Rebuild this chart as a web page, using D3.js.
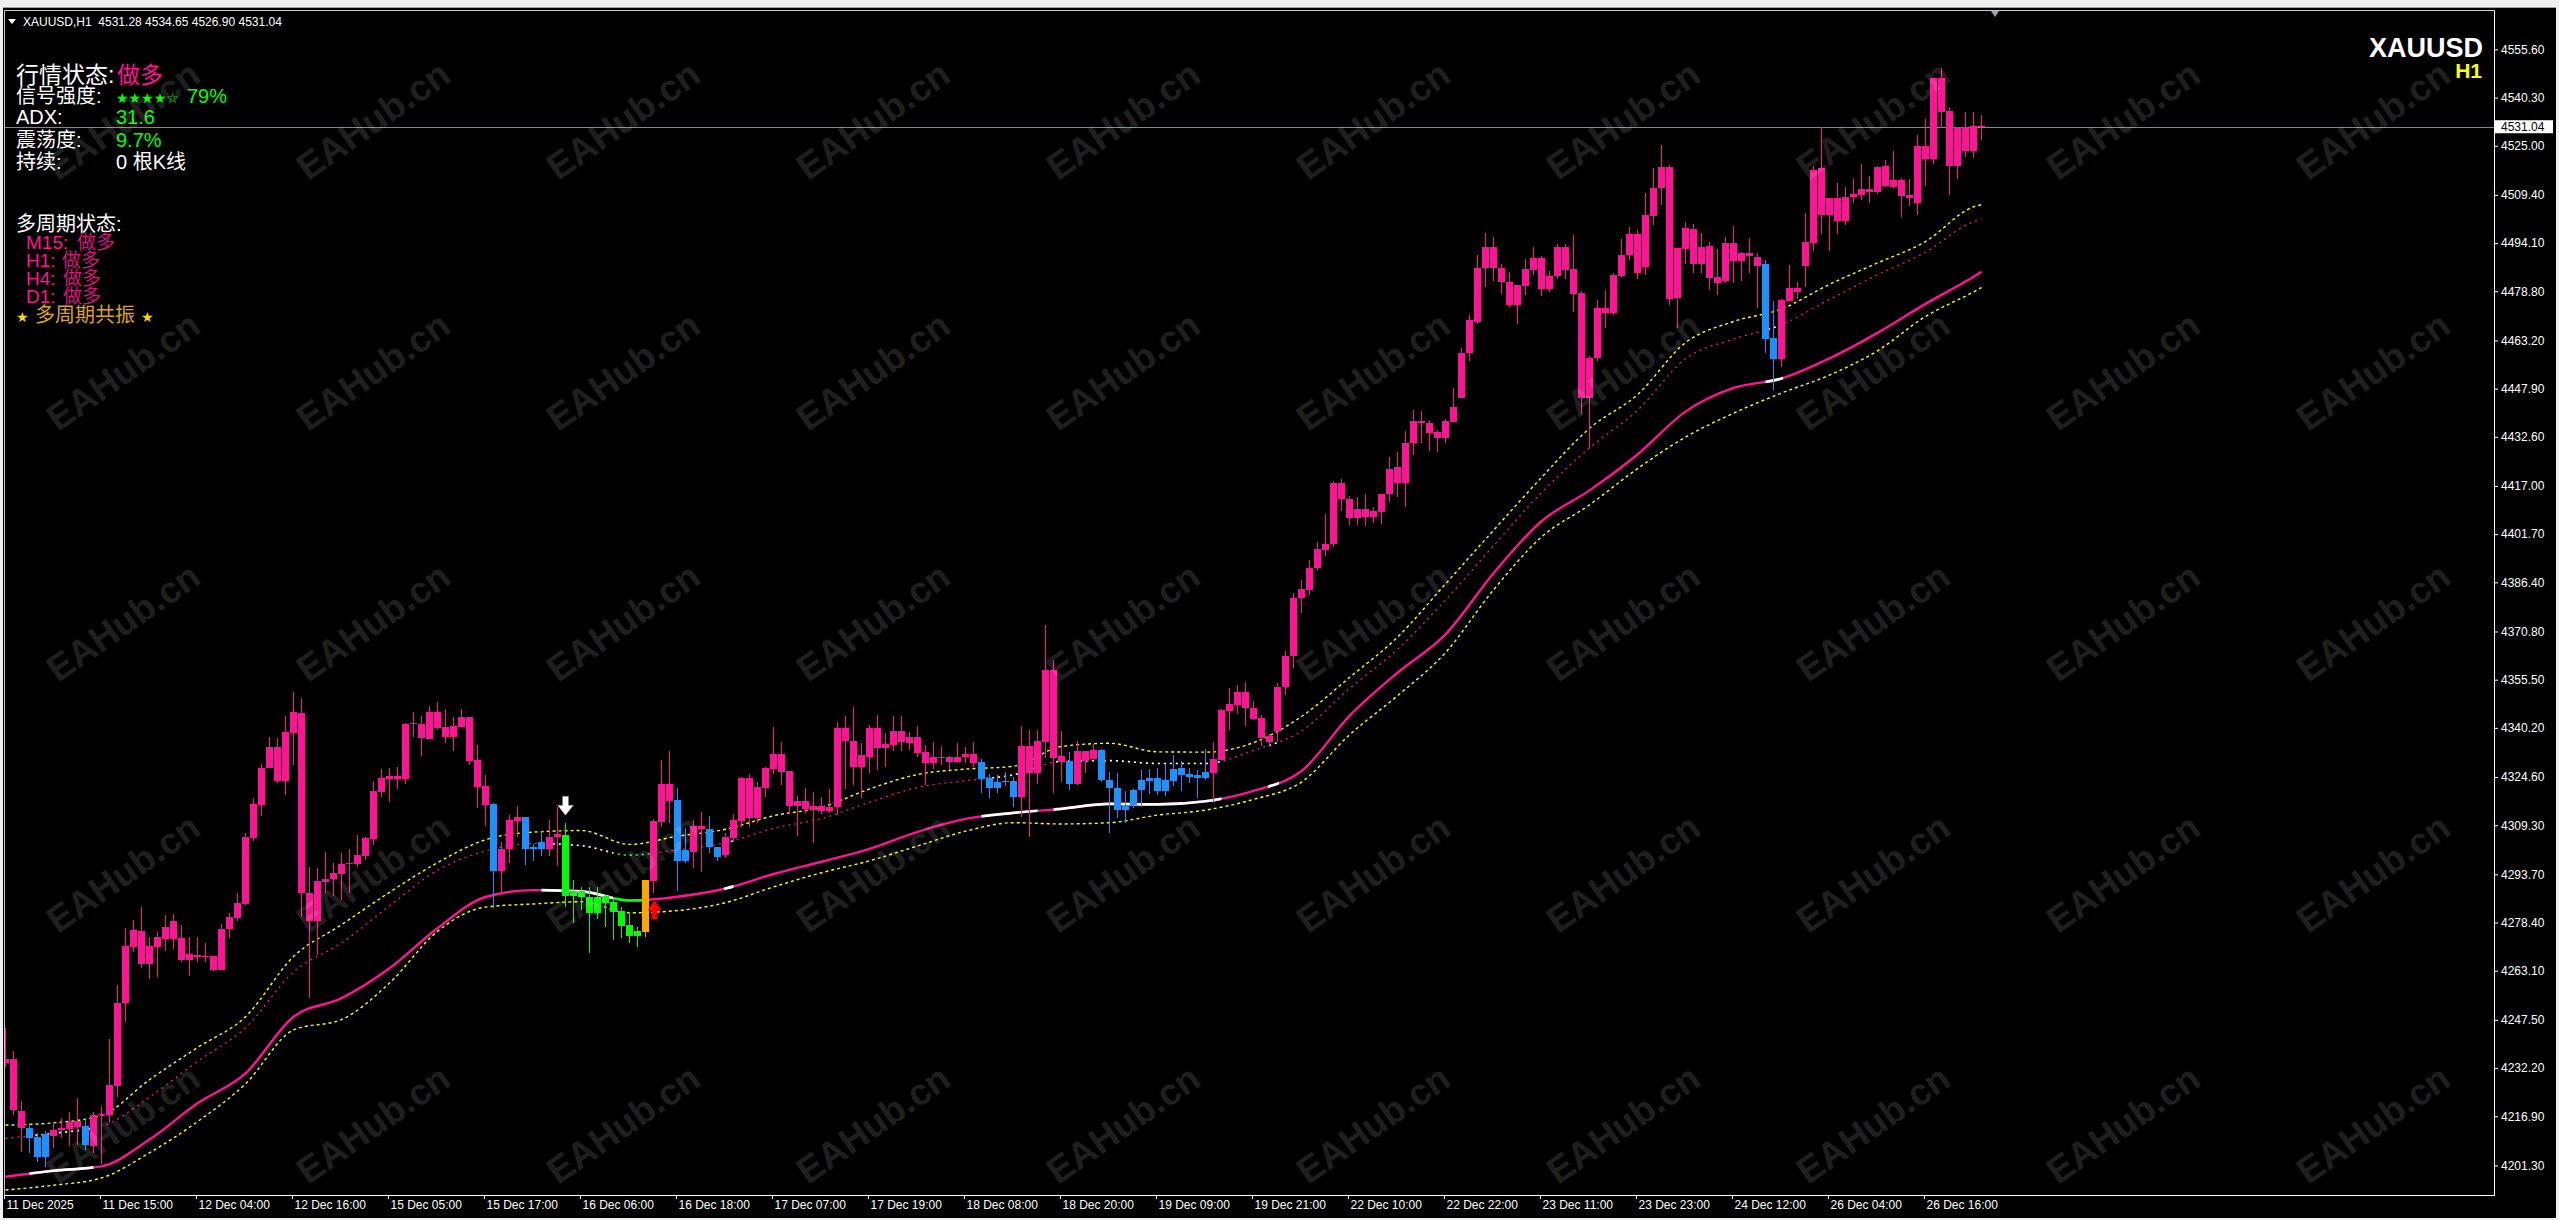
<!DOCTYPE html>
<html><head><meta charset="utf-8">
<script src="https://cdn.jsdelivr.net/npm/d3@7"></script>
<style>
html,body{margin:0;padding:0;background:#000;overflow:hidden}
svg{display:block}
text{white-space:pre}
</style></head><body>
<svg id="chart" width="2559" height="1220"></svg>
<script>
// ---------------- DATA ----------------
const symbol = "XAUUSD";
const timeframe = "H1";
const headerText = "XAUUSD,H1  4531.28 4534.65 4526.90 4531.04";
const lastPrice = 4531.04;

const opens = [
4233.7,4235.1,4218.6,4213.1,4210.2,4204.1,4210.7,4212.5,4212.9,4215.4,
4213.8,4207.5,4217.2,4217.3,4226.5,4253.0,4270.7,4275.8,4265.2,4270.7,
4273.3,4279.0,4273.4,4266.5,4268.0,4267.6,4267.8,4263.3,4276.2,4279.8,
4284.3,4305.3,4315.7,4327.6,4334.1,4323.4,4338.7,4345.0,4287.7,4279.0,
4291.4,4292.2,4293.8,4297.0,4297.0,4299.5,4305.0,4319.9,4324.1,4324.9,
4323.9,4341.3,4341.4,4336.8,4345.2,4340.5,4337.4,4340.6,4343.7,4330.0,
4321.7,4316.0,4294.9,4301.9,4310.7,4312.0,4301.9,4301.6,4301.6,4305.5,
4306.2,4286.8,4288.5,4286.4,4281.3,4286.8,4284.9,4282.1,4277.6,4274.1,
4275.5,4291.7,4310.4,4322.4,4317.3,4298.0,4300.9,4309.0,4308.1,4302.3,
4299.9,4305.3,4310.7,4324.4,4311.7,4321.2,4327.2,4331.9,4326.5,4315.5,
4317.0,4314.1,4315.4,4313.9,4315.2,4340.0,4336.0,4327.9,4331.0,4340.3,
4333.9,4334.7,4339.2,4335.5,4337.2,4332.4,4329.1,4330.8,4330.8,4329.4,
4331.0,4331.9,4329.3,4324.2,4321.0,4323.0,4323.3,4318.4,4334.4,4326.0,
4335.8,4358.6,4331.3,4329.7,4322.4,4332.9,4330.3,4333.2,4323.7,4321.0,
4314.1,4315.6,4320.5,4323.4,4324.4,4320.2,4323.3,4327.6,4324.7,4325.2,
4324.4,4326.0,4330.0,4345.6,4347.5,4351.6,4346.6,4343.4,4337.6,4339.2,
4353.1,4363.0,4381.4,4384.0,4391.0,4396.8,4398.7,4418.0,4412.8,4406.7,
4409.8,4407.1,4408.8,4414.4,4423.1,4417.8,4430.5,4437.5,4437.1,4434.1,
4432.2,4437.4,4444.9,4459.2,4469.2,4486.2,4492.9,4486.2,4481.6,4474.3,
4480.6,4485.5,4489.5,4479.5,4483.5,4492.9,4485.9,4478.2,4445.0,4457.5,
4473.5,4471.9,4483.5,4490.2,4496.9,4486.6,4502.8,4511.5,4518.3,4476.8,
4492.2,4498.6,4487.4,4493.3,4483.4,4482.0,4494.2,4488.4,4491.0,4489.8,
4487.4,4464.1,4457.3,4475.8,4479.9,4486.8,4494.2,4518.0,4503.0,4508.5,
4501.1,4508.6,4509.3,4511.2,4510.4,4518.5,4512.0,4514.1,4509.3,4506.9,
4524.9,4520.7,4546.4,4536.1,4518.5,4530.8,4523.4,4531.28];

const highs = [
4244.8,4237.7,4221.9,4214.9,4211.5,4212.3,4215.2,4216.2,4218.2,4222.6,
4216.2,4218.4,4220.2,4241.4,4258.6,4276.6,4279.2,4283.2,4273.9,4275.3,
4280.8,4281.1,4277.6,4273.9,4273.9,4271.8,4267.8,4277.9,4281.3,4287.7,
4306.9,4317.8,4328.7,4337.2,4336.9,4344.0,4351.7,4349.6,4296.1,4295.6,
4300.9,4297.4,4300.4,4301.6,4306.2,4305.7,4323.3,4327.0,4327.4,4327.7,
4341.9,4345.1,4344.0,4347.1,4348.3,4346.1,4343.8,4346.1,4343.8,4334.8,
4325.2,4316.5,4304.1,4312.5,4315.4,4312.0,4303.3,4307.3,4311.0,4315.2,
4309.9,4291.9,4289.8,4289.6,4289.8,4287.1,4286.6,4283.4,4281.9,4277.1,
4291.9,4311.2,4330.0,4332.8,4321.0,4308.3,4311.1,4313.4,4312.2,4302.5,
4306.9,4312.8,4324.7,4325.5,4323.1,4327.7,4340.4,4335.6,4326.5,4318.7,
4321.0,4319.7,4318.3,4320.8,4342.2,4344.1,4346.7,4335.3,4341.1,4344.3,
4338.7,4343.9,4343.9,4339.0,4340.8,4334.7,4335.6,4334.4,4331.2,4335.3,
4334.0,4335.6,4330.2,4325.5,4325.2,4326.3,4324.5,4340.8,4339.5,4339.5,
4372.9,4361.7,4339.2,4332.4,4336.0,4332.9,4335.0,4333.5,4326.1,4326.0,
4320.3,4320.9,4326.8,4327.1,4327.6,4328.7,4331.6,4329.7,4327.6,4326.8,
4333.5,4335.6,4346.1,4352.8,4353.8,4354.8,4348.7,4344.3,4338.1,4354.3,
4364.7,4383.0,4387.0,4393.5,4399.1,4408.1,4418.7,4419.1,4413.8,4413.5,
4414.4,4410.4,4414.4,4426.1,4427.8,4434.5,4441.2,4440.7,4437.8,4434.9,
4438.1,4448.2,4460.9,4471.2,4490.2,4497.3,4495.9,4487.5,4484.8,4480.8,
4489.2,4492.9,4489.9,4485.2,4493.9,4493.9,4496.6,4478.8,4458.1,4475.9,
4479.2,4484.6,4495.5,4499.3,4498.2,4509.9,4518.0,4525.2,4518.9,4492.6,
4500.9,4500.1,4497.4,4494.5,4492.1,4495.9,4499.6,4491.4,4495.6,4491.0,
4488.7,4475.8,4476.5,4487.1,4481.8,4503.5,4518.5,4531.0,4508.5,4513.3,
4511.8,4514.6,4519.2,4515.4,4518.5,4520.4,4523.4,4514.9,4514.6,4528.4,
4533.4,4546.4,4549.6,4537.4,4531.0,4535.8,4535.8,4534.65];

const lows = [
4232.5,4217.3,4205.7,4205.1,4202.5,4200.7,4206.7,4209.9,4207.3,4207.8,
4206.2,4205.1,4201.7,4214.7,4223.1,4246.9,4269.2,4263.9,4260.4,4261.2,
4269.5,4269.9,4266.0,4261.5,4266.0,4266.0,4263.1,4263.3,4273.4,4279.0,
4284.0,4304.3,4312.2,4327.4,4322.6,4318.9,4328.4,4280.3,4254.3,4268.1,
4287.7,4286.8,4285.6,4287.7,4296.1,4298.3,4303.0,4318.4,4316.8,4320.7,
4322.4,4337.4,4331.3,4336.6,4339.5,4335.5,4333.0,4340.6,4328.4,4314.9,
4309.2,4282.9,4287.9,4297.4,4305.7,4296.7,4298.0,4299.5,4299.5,4296.4,
4283.4,4278.2,4282.4,4268.6,4279.4,4276.9,4272.9,4273.4,4272.0,4270.7,
4273.9,4287.7,4308.8,4309.9,4288.5,4297.2,4295.6,4294.5,4300.4,4298.0,
4298.8,4304.1,4308.8,4308.6,4309.9,4318.3,4325.5,4322.0,4313.0,4306.0,
4313.3,4303.7,4312.8,4313.3,4312.5,4320.7,4322.0,4317.8,4326.0,4326.8,
4327.9,4332.9,4332.9,4333.2,4330.8,4322.0,4327.3,4328.4,4326.8,4328.9,
4328.9,4327.7,4319.6,4318.0,4319.6,4321.8,4315.0,4311.8,4305.7,4322.4,
4330.5,4319.6,4323.1,4320.5,4322.1,4325.8,4330.3,4323.1,4306.7,4311.5,
4310.1,4314.7,4315.2,4319.2,4318.9,4318.7,4321.8,4320.0,4322.8,4318.0,
4323.7,4317.1,4330.0,4339.5,4344.6,4340.8,4342.7,4334.4,4334.4,4335.8,
4350.6,4359.1,4376.8,4382.4,4390.0,4394.8,4397.7,4409.1,4404.7,4404.7,
4404.4,4405.1,4404.8,4411.8,4413.5,4410.4,4426.7,4430.5,4428.2,4427.8,
4430.5,4437.4,4444.9,4456.8,4468.5,4480.3,4482.2,4477.9,4473.9,4468.5,
4477.5,4483.9,4477.2,4478.6,4482.6,4482.6,4472.3,4439.8,4428.9,4456.8,
4467.2,4471.2,4483.2,4488.6,4482.6,4483.9,4499.8,4506.2,4474.4,4467.0,
4487.4,4484.5,4484.5,4479.2,4477.6,4481.3,4481.5,4482.2,4484.5,4473.6,
4459.3,4447.4,4454.8,4475.8,4476.2,4480.2,4491.7,4497.0,4491.7,4497.0,
4499.8,4506.9,4507.8,4506.7,4509.7,4512.0,4511.7,4502.5,4505.8,4503.0,
4512.2,4519.2,4530.5,4509.3,4514.3,4521.3,4521.0,4526.90];

const closes = [
4235.1,4218.9,4213.3,4210.1,4204.1,4211.3,4212.5,4213.3,4215.0,4213.6,
4207.8,4217.3,4217.6,4226.8,4253.0,4271.0,4276.0,4265.2,4271.0,4273.7,
4276.9,4273.3,4266.5,4268.4,4267.6,4267.8,4263.3,4276.4,4280.1,4284.5,
4305.5,4316.0,4327.6,4334.1,4323.4,4339.0,4345.2,4287.7,4279.0,4291.6,
4292.2,4294.2,4297.0,4297.4,4299.8,4305.2,4320.2,4324.3,4324.9,4323.9,
4341.4,4341.6,4337.1,4345.2,4340.3,4337.4,4340.8,4343.7,4329.8,4321.5,
4315.7,4294.9,4301.9,4311.0,4312.0,4301.9,4302.5,4304.0,4305.5,4306.5,
4286.8,4288.5,4286.4,4281.3,4286.4,4284.7,4281.8,4277.3,4274.1,4275.8,
4291.9,4310.6,4322.4,4317.1,4298.0,4301.4,4309.0,4308.1,4302.3,4299.3,
4305.4,4310.9,4324.4,4311.7,4321.5,4327.5,4331.9,4326.3,4315.5,4317.0,
4314.4,4315.4,4313.9,4315.0,4340.0,4336.1,4327.9,4331.5,4340.0,4333.9,
4335.0,4339.2,4335.8,4337.2,4332.3,4329.1,4330.8,4330.7,4329.4,4330.8,
4331.9,4329.1,4324.1,4321.0,4323.0,4323.4,4318.4,4334.4,4326.0,4336.0,
4358.6,4330.7,4329.5,4322.4,4332.9,4329.7,4333.2,4323.7,4321.0,4314.1,
4315.7,4320.5,4323.7,4324.4,4320.2,4323.7,4327.2,4325.2,4325.7,4324.4,
4326.2,4330.2,4345.9,4347.8,4351.6,4346.6,4343.0,4337.1,4335.8,4353.1,
4363.0,4381.4,4384.4,4391.0,4397.1,4398.7,4418.0,4412.8,4406.7,4409.8,
4407.1,4409.1,4414.4,4422.4,4417.8,4430.5,4437.5,4437.1,4433.8,4432.2,
4437.5,4442.2,4459.2,4469.6,4486.2,4492.9,4486.2,4481.6,4474.3,4480.8,
4485.9,4489.5,4479.5,4483.5,4492.9,4485.5,4477.9,4445.0,4457.6,4473.5,
4471.9,4483.9,4490.3,4497.0,4484.5,4503.0,4511.7,4518.3,4476.5,4492.6,
4499.0,4487.4,4492.9,4483.1,4481.5,4494.2,4488.4,4491.0,4490.1,4486.9,
4463.8,4457.3,4476.0,4479.9,4478.7,4494.5,4517.3,4503.0,4508.5,4501.1,
4508.8,4509.7,4511.2,4510.4,4518.3,4512.2,4514.1,4509.0,4508.3,4524.9,
4520.7,4546.4,4535.8,4518.5,4530.8,4523.4,4531.2,4531.04];

// bar states (indicator colouring)
const blueBars = [3,4,5,10,61,65,66,67,84,85,88,89,122,123,124,125,126,133,
  137,138,139,140,141,142,143,144,145,146,147,148,149,150,220,221];
const greenBars = [70,71,72,73,74,75,76,77,78,79];
const orangeBars = [80];
const sellArrowBars = [70];
const buyArrowBars = [81];

// indicator lines, sampled at bar indices
const lineIdx = [0,6,12,18,24,30,36,42,48,54,60,66,72,78,84,90,96,102,108,114,120,126,132,138,144,150,156,162,168,174,180,186,192,198,204,210,216,222,228,234,240,246,247];
const maLine = [4197.7,4199.6,4201.0,4209.5,4221.0,4230.5,4248.5,4254.4,4263.9,4276.6,4286.5,4288.7,4288.3,4285.4,4286.6,4289.2,4293.8,4297.7,4301.8,4307.2,4311.3,4313.2,4314.5,4316.1,4315.9,4316.9,4320.2,4326.5,4344.0,4357.7,4369.9,4389.3,4405.8,4415.6,4427.0,4440.6,4448.1,4451.1,4457.5,4465.6,4474.8,4483.4,4485.0];
const upperBand = [4214.1,4214.8,4217.2,4228.5,4238.7,4248.5,4267.6,4277.7,4288.0,4297.4,4304.7,4307.1,4307.6,4303.2,4305.8,4308.0,4312.3,4315.0,4320.8,4325.4,4327.1,4328.0,4334.3,4335.3,4332.6,4332.5,4335.5,4343.8,4356.2,4369.0,4385.9,4402.9,4419.7,4435.3,4446.0,4462.5,4469.2,4473.2,4481.0,4487.8,4494.6,4505.6,4506.3];
const midLine = [4209.9,4211.5,4213.7,4223.0,4234.3,4245.0,4262.7,4271.9,4283.7,4295.0,4301.1,4303.5,4302.8,4299.8,4301.5,4303.7,4308.3,4311.4,4316.6,4321.3,4323.4,4325.3,4329.6,4329.8,4328.9,4328.9,4333.0,4339.2,4352.7,4365.1,4380.8,4398.0,4414.9,4429.1,4441.0,4457.4,4463.6,4468.2,4476.2,4484.0,4491.2,4500.9,4501.7];
const lowerBand = [4193.5,4195.0,4197.3,4205.3,4215.2,4227.2,4244.3,4247.6,4259.2,4275.6,4283.3,4284.3,4285.0,4281.5,4282.2,4284.7,4289.7,4294.2,4298.0,4302.7,4307.4,4310.1,4309.7,4310.1,4312.5,4314.1,4317.5,4323.0,4338.0,4350.4,4364.1,4384.0,4400.8,4411.0,4422.5,4432.5,4440.1,4446.5,4452.2,4459.9,4470.8,4478.6,4480.0];
const whiteSegs = [[3,11],[67,76],[89.8,91],[122,129],[131,152],[157.8,159.2],[220,222.2]];
const greenSegs = [[76,80.5]];

// axes
const priceTicks = [4555.60,4540.30,4525.00,4509.40,4494.10,4478.80,4463.20,4447.90,4432.60,4417.00,4401.70,4386.40,4370.80,4355.50,4340.20,4324.60,4309.30,4293.70,4278.40,4263.10,4247.50,4232.20,4216.90,4201.30];
const timeLabels = ["11 Dec 2025","11 Dec 15:00","12 Dec 04:00","12 Dec 16:00","15 Dec 05:00","15 Dec 17:00","16 Dec 06:00","16 Dec 18:00","17 Dec 07:00","17 Dec 19:00","18 Dec 08:00","18 Dec 20:00","19 Dec 09:00","19 Dec 21:00","22 Dec 10:00","22 Dec 22:00","23 Dec 11:00","23 Dec 23:00","24 Dec 12:00","26 Dec 04:00","26 Dec 16:00"];
const timeLabelBars = [0,12,24,36,48,60,72,84,96,108,120,132,144,156,168,180,192,204,216,228,240];

// info panel
const panelRows = [
  [{t:"行情状态:",c:"#FFFFFF",s:23,dx:16},{t:"做多",c:"#FF1493",s:23,dx:117}],
  [{t:"信号强度:",c:"#FFFFFF",s:20,dx:16},{t:"★★★★☆",c:"#00FF00",s:14,dx:116,f:"DejaVu Sans"},{t:"79%",c:"#00FF00",s:20,dx:187}],
  [{t:"ADX:",c:"#FFFFFF",s:20,dx:16},{t:"31.6",c:"#00FF00",s:20,dx:116}],
  [{t:"震荡度:",c:"#FFFFFF",s:20,dx:16},{t:"9.7%",c:"#00FF00",s:20,dx:116}],
  [{t:"持续:",c:"#FFFFFF",s:20,dx:16},{t:"0 根K线",c:"#FFFFFF",s:20,dx:116}],
  [{t:"多周期状态:",c:"#FFFFFF",s:20,dx:16}],
  [{t:"M15:",c:"#FF1493",s:19,dx:26},{t:"做多",c:"#D3177C",s:19,dx:77}],
  [{t:"H1:",c:"#FF1493",s:19,dx:26},{t:"做多",c:"#D3177C",s:19,dx:62}],
  [{t:"H4:",c:"#FF1493",s:19,dx:26},{t:"做多",c:"#D3177C",s:19,dx:63}],
  [{t:"D1:",c:"#FF1493",s:19,dx:26},{t:"做多",c:"#D3177C",s:19,dx:63}],
  [{t:"★",c:"#FFD700",s:14,dx:16,f:"DejaVu Sans"},{t:"多周期共振",c:"#DAA520",s:20,dx:35},{t:"★",c:"#FFD700",s:14,dx:141,f:"DejaVu Sans"}]
];
const panelBaselines = [83,103,124,147,169,231,249,267,285,303,322];

// watermark grid
const watermarkText = "EAHub.cn";
const watermarkCols = [123,373,623,873,1123,1373,1623,1873,2123,2373];
const watermarkRows = [120,371,622,873,1124];

// ---------------- DRAWING ----------------
const W = 2559, H = 1220;
const plot = {left:4, top:10, right:2494, bottom:1195};
const FONT = "'Liberation Sans', Arial, 'Noto Sans CJK SC', sans-serif";
const svg = d3.select("#chart");

const bars = d3.range(opens.length).map(i => ({i, o:opens[i], h:highs[i], l:lows[i], c:closes[i]}));
const colorOf = i => blueBars.includes(i) ? "#1E90FF" : greenBars.includes(i) ? "#00FF00" : orangeBars.includes(i) ? "#FFA500" : "#FF1493";

const x = d3.scaleLinear().domain([0, bars.length - 1]).range([5.5, 5.5 + 8 * (bars.length - 1)]);
const y = d3.scaleLinear().domain([4191.9, 4568.1]).range([plot.bottom, plot.top]);

svg.append("rect").attr("width", W).attr("height", H).attr("fill", "#000");

const defs = svg.append("defs");
defs.append("clipPath").attr("id", "plotClip").append("rect")
  .attr("x", plot.left + 1).attr("y", plot.top + 1)
  .attr("width", plot.right - plot.left - 1).attr("height", plot.bottom - plot.top - 1);

const plotG = svg.append("g").attr("clip-path", "url(#plotClip)");

// current price line
plotG.append("line").attr("x1", plot.left).attr("x2", plot.right)
  .attr("y1", Math.round(y(lastPrice)) + 0.5).attr("y2", Math.round(y(lastPrice)) + 0.5)
  .attr("stroke", "#7A8A99").attr("stroke-width", 1);

// indicator lines
const pts = arr => lineIdx.map((d, k) => [d, arr[k]]);
const lineGen = d3.line().x(d => x(d[0])).y(d => y(d[1])).curve(d3.curveMonotoneX);

plotG.append("path").attr("d", lineGen(pts(upperBand))).attr("fill", "none")
  .attr("stroke", "#FFFF00").attr("stroke-width", 1.4).attr("stroke-dasharray", "3,3");
plotG.append("path").attr("d", lineGen(pts(lowerBand))).attr("fill", "none")
  .attr("stroke", "#FFFF00").attr("stroke-width", 1.4).attr("stroke-dasharray", "3,3");

let segCount = 0;
function segClip(s, e) {
  const id = "seg" + (segCount++);
  defs.append("clipPath").attr("id", id).append("rect")
    .attr("x", x(s)).attr("y", 0).attr("width", Math.max(1, x(e) - x(s))).attr("height", H);
  return id;
}
function drawColored(arr, base, width, dash) {
  const g = plotG.append("g");
  const p = g.append("path").attr("d", lineGen(pts(arr))).attr("fill", "none")
    .attr("stroke", base).attr("stroke-width", width);
  if (dash) p.attr("stroke-dasharray", dash);
  const segs = whiteSegs.map(s => [s, "#FFFFFF"]).concat(greenSegs.map(s => [s, "#00FF00"]));
  segs.forEach(([s, col]) => {
    const id = segClip(s[0], s[1]);
    const q = g.append("g").attr("clip-path", `url(#${id})`).append("path")
      .attr("d", lineGen(pts(arr))).attr("fill", "none").attr("stroke", col).attr("stroke-width", width + 0.3);
    if (dash) q.attr("stroke-dasharray", dash);
  });
}
drawColored(midLine, "#E0208F", 1.3, "2,4");
drawColored(maLine, "#FF1493", 2.4, null);

// candles
const cg = plotG.append("g").attr("shape-rendering", "crispEdges");
cg.selectAll("line.wick").data(bars).join("line").attr("class", "wick")
  .attr("x1", d => Math.floor(x(d.i)) + 0.5).attr("x2", d => Math.floor(x(d.i)) + 0.5)
  .attr("y1", d => y(d.h)).attr("y2", d => y(d.l))
  .attr("stroke", d => colorOf(d.i)).attr("stroke-width", 1);
cg.selectAll("rect.body").data(bars).join("rect").attr("class", "body")
  .attr("x", d => Math.floor(x(d.i)) - 3).attr("width", 7)
  .attr("y", d => y(Math.max(d.o, d.c)))
  .attr("height", d => Math.max(1, Math.abs(y(d.o) - y(d.c))))
  .attr("fill", d => colorOf(d.i));

// arrows
sellArrowBars.forEach(i => {
  const cx = x(i), ty = y(highs[i]) - 8;
  plotG.append("path")
    .attr("d", `M${cx-3},${ty-19}L${cx+3},${ty-19}L${cx+3},${ty-10}L${cx+8},${ty-10}L${cx},${ty}L${cx-8},${ty-10}L${cx-3},${ty-10}Z`)
    .attr("fill", "#FFFFFF").attr("stroke", "#777").attr("stroke-width", 0.6);
});
buyArrowBars.forEach(i => {
  const cx = x(i) + 1, ty = y(lows[i]) + 7;
  plotG.append("path")
    .attr("d", `M${cx-3},${ty+19}L${cx+3},${ty+19}L${cx+3},${ty+10}L${cx+7},${ty+10}L${cx},${ty}L${cx-7},${ty+10}L${cx-3},${ty+10}Z`)
    .attr("fill", "#FF0000");
});

// axes
const yAxis = d3.axisRight(y).tickValues(priceTicks).tickFormat(d3.format(".2f")).tickSize(4).tickSizeOuter(0);
const yg = svg.append("g").attr("transform", `translate(${plot.right},0)`).call(yAxis);
yg.select(".domain").remove();
yg.selectAll("line").attr("stroke", "#FFFFFF");
yg.selectAll("text").attr("fill", "#FFFFFF").attr("font-family", FONT).attr("font-size", 12);

const xAxis = d3.axisBottom(x).tickValues(timeLabelBars).tickFormat((d, k) => timeLabels[k]).tickSize(4).tickSizeOuter(0);
const xg = svg.append("g").attr("transform", `translate(-1.5,${plot.bottom})`).call(xAxis);
xg.select(".domain").remove();
xg.selectAll("line").attr("stroke", "#FFFFFF");
xg.selectAll("text").attr("fill", "#FFFFFF").attr("font-family", FONT).attr("font-size", 12)
  .attr("text-anchor", "start").attr("x", 2).attr("y", 5);

// frame lines
svg.append("line").attr("x1", plot.right + 0.5).attr("x2", plot.right + 0.5).attr("y1", plot.top).attr("y2", plot.bottom + 1).attr("stroke", "#FFFFFF");
svg.append("line").attr("x1", plot.left).attr("x2", plot.right + 1).attr("y1", plot.bottom + 0.5).attr("y2", plot.bottom + 0.5).attr("stroke", "#FFFFFF");
svg.append("line").attr("x1", plot.left + 0.5).attr("x2", plot.left + 0.5).attr("y1", plot.top).attr("y2", plot.bottom).attr("stroke", "#C8C8C8");
svg.append("line").attr("x1", plot.left).attr("x2", plot.right + 1).attr("y1", plot.top + 0.5).attr("y2", plot.top + 0.5).attr("stroke", "#C8C8C8");

// window chrome strips
svg.append("rect").attr("x", 0).attr("y", 0).attr("width", W).attr("height", 8).attr("fill", "#F0F0F0");
svg.append("line").attr("x1", 0).attr("x2", W).attr("y1", 7.5).attr("y2", 7.5).attr("stroke", "#A0A0A0");
svg.append("rect").attr("x", 0).attr("y", 0).attr("width", 3).attr("height", H).attr("fill", "#F0F0F0");
svg.append("rect").attr("x", W - 3).attr("y", 0).attr("width", 3).attr("height", H).attr("fill", "#F0F0F0");
svg.append("rect").attr("x", 0).attr("y", H - 2).attr("width", W).attr("height", 2).attr("fill", "#F0F0F0");

// last price label
const ly = y(lastPrice);
svg.append("rect").attr("x", plot.right + 1).attr("y", ly - 6.5).attr("width", 58).attr("height", 13).attr("fill", "#FFFFFF");
svg.append("text").attr("x", plot.right + 7).attr("y", ly).attr("dy", "0.35em")
  .attr("font-family", FONT).attr("font-size", 12).attr("fill", "#000").text(d3.format(".2f")(lastPrice));

// chart shift marker
const sx = x(bars.length - 1) + 13.5;
svg.append("path").attr("d", `M${sx-4},${plot.top+1}L${sx+4},${plot.top+1}L${sx},${plot.top+7}Z`).attr("fill", "#9AA5B1");

// header
svg.append("path").attr("d", "M8,19L16,19L12,24Z").attr("fill", "#FFFFFF");
svg.append("text").attr("x", 23).attr("y", 26).attr("font-family", FONT).attr("font-size", 12)
  .attr("fill", "#FFFFFF").text(headerText);

// symbol / timeframe at top-right
svg.append("text").attr("x", 2483).attr("y", 57).attr("text-anchor", "end").attr("font-family", FONT)
  .attr("font-weight", "bold").attr("font-size", 27).attr("fill", "#FFFFFF").text(symbol);
svg.append("text").attr("x", 2482).attr("y", 78).attr("text-anchor", "end").attr("font-family", FONT)
  .attr("font-weight", "bold").attr("font-size", 21).attr("fill", "#FFFF00").text(timeframe);

// info panel
panelRows.forEach((row, r) => {
  row.forEach(p => {
    svg.append("text").attr("x", p.dx).attr("y", panelBaselines[r])
      .attr("font-family", p.f ? `'${p.f}', ${FONT}` : FONT)
      .attr("font-size", p.s).attr("fill", p.c).text(p.t);
  });
});

// watermarks
const wm = svg.append("g").attr("pointer-events", "none");
watermarkCols.forEach(cx => {
  watermarkRows.forEach(cy => {
    wm.append("text").attr("transform", `translate(${cx},${cy}) rotate(-35)`)
      .attr("text-anchor", "middle").attr("dy", "0.35em")
      .attr("font-family", FONT).attr("font-weight", "bold").attr("font-size", 37)
      .attr("fill", "#FFFFFF").attr("fill-opacity", 0.14).text(watermarkText);
  });
});
</script>
</body></html>
